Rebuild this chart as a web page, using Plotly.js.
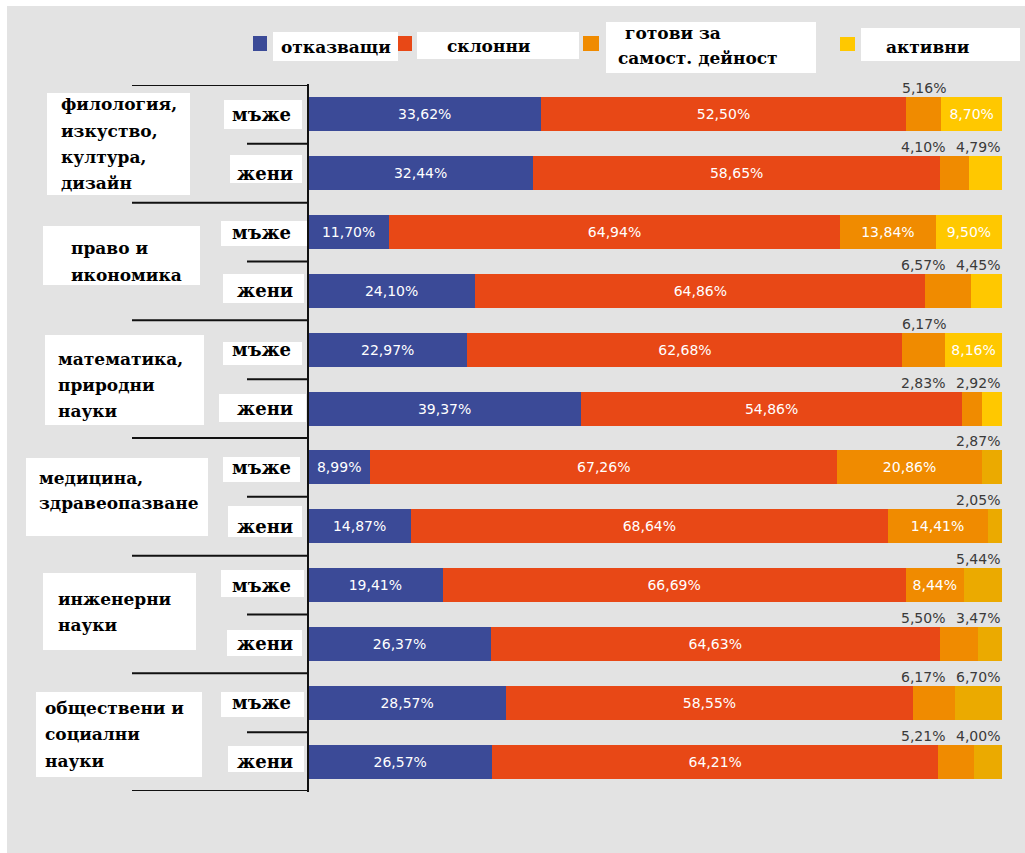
<!DOCTYPE html>
<html><head><meta charset="utf-8">
<script src="https://cdn.plot.ly/plotly-3.0.1.min.js"></script>
<style>
body{margin:0;background:#fff;}
#chart{position:absolute;left:7px;top:6px;width:1018px;height:847px;}
</style>
</head><body><div id="chart"></div>
<script>
// ---------- DATA ----------
const seriesNames = ['отказващи', 'склонни', 'готови за самост. дейност', 'активни'];
const fieldLines = [
  ['филология,', 'изкуство,', 'култура,', 'дизайн'],
  ['право и', 'икономика'],
  ['математика,', 'природни', 'науки'],
  ['медицина,', 'здравеопазване'],
  ['инженерни', 'науки'],
  ['обществени и', 'социални', 'науки']
];
const genders = ['мъже', 'жени'];
const refusing = [33.62, 32.44, 11.70, 24.10, 22.97, 39.37, 8.99, 14.87, 19.41, 26.37, 28.57, 26.57];
const inclined = [52.50, 58.65, 64.94, 64.86, 62.68, 54.86, 67.26, 68.64, 66.69, 64.63, 58.55, 64.21];
const ready    = [5.16, 4.10, 13.84, 6.57, 6.17, 2.83, 20.86, 14.41, 8.44, 5.50, 6.17, 5.21];
const active   = [8.70, 4.79, 9.50, 4.45, 8.16, 2.92, 2.87, 2.05, 5.44, 3.47, 6.70, 4.00];

// ---------- STYLE / LAYOUT CONFIG ----------
const colors = ['#3B4A97', '#E84816', '#F08B00', '#FFC800'];
const goldLate = '#EBAA00';
const serif = 'DejaVu Serif, Liberation Serif, serif';
const sans = 'DejaVu Sans, Liberation Sans, sans-serif';
const PL = 308, PR = 1002, PT = 85, PB = 791; // page px of plot area
const px = v => (v - PL) / (PR - PL);
const py = v => (PB - v) / (PB - PT);

// category boxes [x0,x1,y0,y1] and text (left x, line y centers) in page px
const catBoxes = [[47,190,93,195],[43,200,226,285],[45,204,335,425],[26,208,458,536],[43,196,573,650],[36,202,692,777]];
const catTextX = [59, 69, 56, 37, 56, 43];
const catTextY = [[104,131,157,183],[248,275],[359,385,411],[478,503],[599,625],[708,734,761]];
const genBoxes = [[224,302,100,129],[230,302,155,183],[221,307,221,246],[223,304,274,303],[223,302,342,365],[219,306,394,422],
                  [223,300,457,482],[228,302,506,537],[221,304,570,597],[227,302,630,656],[221,304,692,717],[228,304,746,772]];

const fmt = v => v.toFixed(2).replace('.', ',') + '%';
const rows = refusing.map((_, i) => i);
const all = [refusing, inclined, ready, active];

const traces = all.map((vals, k) => ({
  type: 'bar', orientation: 'h', name: seriesNames[k],
  x: vals, y: rows,
  marker: { color: k === 3 ? rows.map(r => r >= 6 ? goldLate : colors[3]) : colors[k], line: {width: 0} },
  text: vals.map(v => v >= 8 ? fmt(v) : ''),
  textposition: 'inside', insidetextanchor: 'middle', textangle: 0,
  textfont: { family: sans, size: 14, color: '#ffffff' },
  hoverinfo: 'skip', showlegend: false
}));

const shapes = [];
const annotations = [];

// axis line and separators
shapes.push({type:'line', xref:'paper', yref:'paper', x0:0, x1:0, y0:py(792), y1:py(84), line:{color:'#111', width:2}});
for (let g = 0; g <= fieldLines.length; g++) {
  shapes.push({type:'line', xref:'paper', yref:'y', x0:px(132), x1:0, y0:2*g-0.5, y1:2*g-0.5, line:{color:'#111', width:2}});
}
for (let g = 0; g < fieldLines.length; g++) {
  shapes.push({type:'line', xref:'paper', yref:'y', x0:px(247), x1:0, y0:2*g+0.5, y1:2*g+0.5, line:{color:'#111', width:2}});
}

// category boxes + text
fieldLines.forEach((lines, g) => {
  const b = catBoxes[g];
  shapes.push({type:'rect', xref:'paper', yref:'paper', x0:px(b[0]), x1:px(b[1]), y0:py(b[3]), y1:py(b[2]), fillcolor:'#fff', line:{width:0}, layer:'above'});
  lines.forEach((t, j) => {
    annotations.push({xref:'paper', yref:'paper', x:px(catTextX[g]), y:py(catTextY[g][j]), xanchor:'left', yanchor:'middle',
      text:'<b>'+t+'</b>', showarrow:false, font:{family:serif, size:17, color:'#000'}});
  });
});

// gender boxes + text
rows.forEach(r => {
  const b = genBoxes[r];
  shapes.push({type:'rect', xref:'paper', yref:'paper', x0:px(b[0]), x1:px(b[1]), y0:py(b[3]), y1:py(b[2]), fillcolor:'#fff', line:{width:0}, layer:'above'});
  annotations.push({xref:'paper', yref:'y', x:px(r % 2 === 0 ? 261 : 265), y:r, xanchor:'center', yanchor:'middle',
    text:'<b>'+genders[r % 2]+'</b>', showarrow:false, font:{family:serif, size:18, color:'#000'}});
});

// outside value labels
rows.forEach(r => {
  const o = ready[r], a = active[r];
  const oOut = o < 8, aOut = a < 8;
  const base = {yref:'y', xref:'x', y:r, yshift:26, yanchor:'middle', showarrow:false, font:{family:sans, size:14, color:'#3a3a3a'}};
  if (aOut) annotations.push(Object.assign({}, base, {x:100, xanchor:'right', text:fmt(a)}));
  if (oOut && aOut) annotations.push(Object.assign({}, base, {x:100, xanchor:'right', xshift:-55, text:fmt(o)}));
  if (oOut && !aOut) annotations.push(Object.assign({}, base, {x:refusing[r]+inclined[r]+o/2, xanchor:'center', text:fmt(o)}));
});

// custom legend
const legSq = [[253,267,36,51],[398,412,36,51],[583,599,36,51],[840,855,37,51]];
const legBox = [[273,398,32,61],[417,579,32,59],[606,816,22,73],[861,1020,28,61]];
legBox.forEach(b => shapes.push({type:'rect', xref:'paper', yref:'paper', x0:px(b[0]), x1:px(b[1]), y0:py(b[3]), y1:py(b[2]), fillcolor:'#fff', line:{width:0}}));
legSq.forEach((b, k) => shapes.push({type:'rect', xref:'paper', yref:'paper', x0:px(b[0]), x1:px(b[1]), y0:py(b[3]), y1:py(b[2]), fillcolor:colors[k], line:{width:0}}));
const legFont = {family:serif, size:17, color:'#000'};
annotations.push({xref:'paper', yref:'paper', x:px(336), y:py(47), xanchor:'center', yanchor:'middle', text:'<b>'+seriesNames[0]+'</b>', showarrow:false, font:legFont});
annotations.push({xref:'paper', yref:'paper', x:px(489), y:py(46), xanchor:'center', yanchor:'middle', text:'<b>'+seriesNames[1]+'</b>', showarrow:false, font:legFont});
const rd = seriesNames[2].split(' самост');
annotations.push({xref:'paper', yref:'paper', x:px(623), y:py(33), xanchor:'left', yanchor:'middle', text:'<b>'+rd[0]+'</b>', showarrow:false, font:legFont});
annotations.push({xref:'paper', yref:'paper', x:px(616), y:py(58), xanchor:'left', yanchor:'middle', text:'<b>самост'+rd[1]+'</b>', showarrow:false, font:legFont});
annotations.push({xref:'paper', yref:'paper', x:px(928), y:py(47), xanchor:'center', yanchor:'middle', text:'<b>'+seriesNames[3]+'</b>', showarrow:false, font:legFont});

const layout = {
  width: 1018, height: 847,
  margin: {l: 301, r: 23, t: 79, b: 62, pad: 0},
  paper_bgcolor: '#E3E3E3', plot_bgcolor: '#E3E3E3',
  barmode: 'stack', bargap: 0.42,
  uniformtext: {mode: 'show', minsize: 14},
  xaxis: {range: [0, 100], visible: false, fixedrange: true},
  yaxis: {range: [11.5, -0.5], visible: false, fixedrange: true},
  shapes: shapes, annotations: annotations, showlegend: false
};
Plotly.newPlot('chart', traces, layout, {displayModeBar: false, staticPlot: true});
</script>
</body></html>
